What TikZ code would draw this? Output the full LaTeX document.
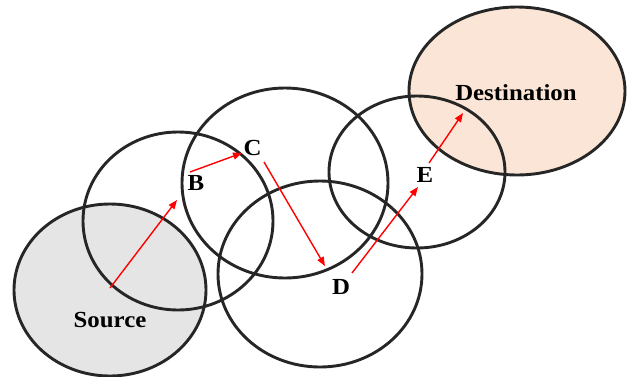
\documentclass[tikz,border=0pt]{standalone}
\usepackage{fontspec}
\setmainfont{Liberation Serif}[FakeStretch=1.08]
\usepackage{tikz}
\usetikzlibrary{arrows.meta}
\definecolor{cSrc}{RGB}{229,229,229}
\definecolor{cDst}{RGB}{251,229,214}
\definecolor{cRim}{RGB}{38,38,38}
\tikzset{
  zone/.style={draw=cRim,line width=2.9pt},
  hop/.style={draw=red,line width=1.4pt,-{Triangle[length=9pt,width=7pt]}},
  lbl/.style={font=\bfseries\fontsize{23}{23}\selectfont,inner sep=0pt,anchor=base},
}

\begin{document}
\begin{tikzpicture}[x=1pt,y=-1pt]
\useasboundingbox (0,0) rectangle (627,376);
\clip (0,0) rectangle (627,376);
\fill[cSrc] (110,290) ellipse [x radius=96,y radius=86];
\fill[cDst] (517,91) ellipse [x radius=108,y radius=84];
\draw[zone] (110,290) ellipse [x radius=96,y radius=86];
\draw[zone] (178,221) ellipse [x radius=95,y radius=89];
\draw[zone] (285,183) ellipse [x radius=103,y radius=95];
\draw[zone] (320,274) ellipse [x radius=102,y radius=93];
\draw[zone] (417,172) ellipse [x radius=88,y radius=76];
\draw[zone] (517,91) ellipse [x radius=108,y radius=84];
\node[lbl] (src) at (110,327) {Source};
\node[lbl] (b) at (196,190) {B};
\node[lbl] (c) at (252.5,155) {C};
\node[lbl] (d) at (341,294) {D};
\node[lbl] (e) at (425,182) {E};
\node[lbl] (dst) at (516,100) {Destination};
\coordinate (src-out) at (110,288);
\coordinate (b-in) at (177,200);
\coordinate (b-out) at (190,172);
\coordinate (c-in) at (242,153);
\coordinate (c-out) at (264,162);
\coordinate (d-in) at (325,266);
\coordinate (d-out) at (352,273);
\coordinate (e-in) at (418,187);
\coordinate (e-out) at (429,163);
\coordinate (dst-in) at (463,113);
\draw[hop] (src-out) -- (b-in);
\draw[hop] (b-out) -- (c-in);
\draw[hop] (c-out) -- (d-in);
\draw[hop] (d-out) -- (e-in);
\draw[hop] (e-out) -- (dst-in);
\end{tikzpicture}
\end{document}
